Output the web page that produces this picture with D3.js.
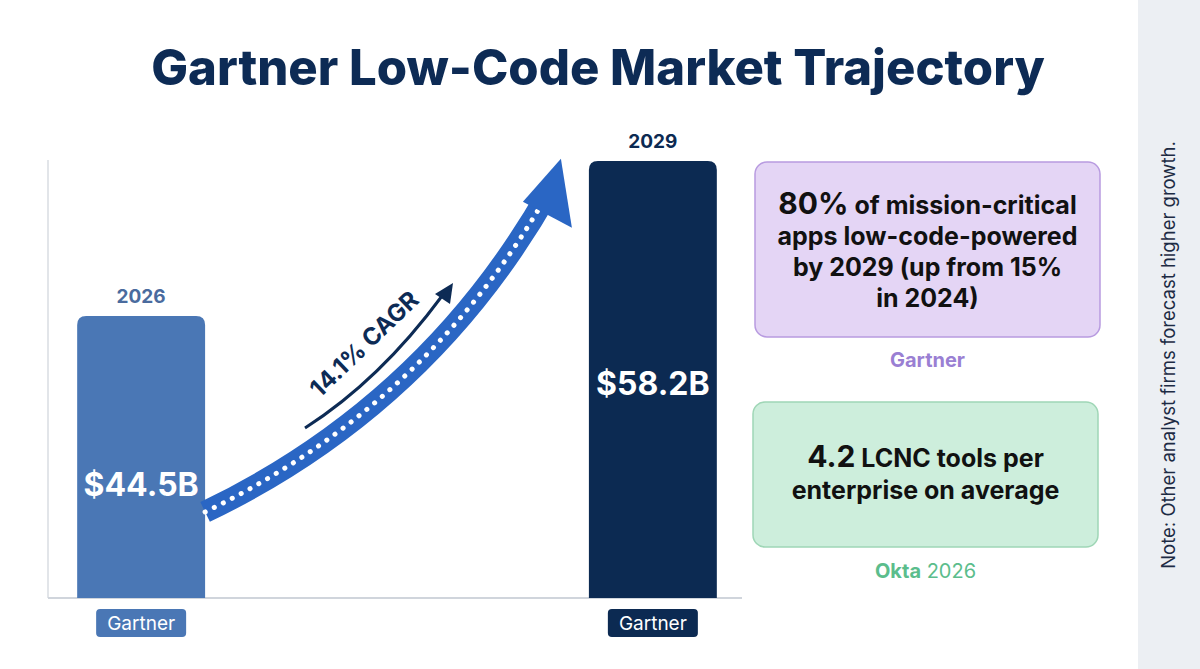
<!DOCTYPE html>
<html><head><meta charset="utf-8">
<script src="https://cdn.jsdelivr.net/npm/d3@7"></script>
<style>body{margin:0;background:#fff;font-family:Inter,"Noto Sans",sans-serif}</style>
</head><body><div id="chart"></div>
<script>
// chart data
const years = ["2026", "2029"];
const values = [44.5, 58.2];
const valueLabels = ["$44.5B", "$58.2B"];
const sources = ["Gartner", "Gartner"];
const barColors = ["#4a77b5", "#0c2a52"];
const cagrLabel = "14.1% CAGR";

const W = 1200, H = 669;
const svg = d3.select("#chart").append("svg").attr("width", W).attr("height", H);

// note strip on the right
svg.append("rect").attr("x", 1138).attr("y", 0).attr("width", 62).attr("height", H).attr("fill", "#eceff3");
svg.append("text").attr("transform", "translate(1175,355) rotate(-90)")
  .attr("text-anchor", "middle").style("font-size", "18.5px").attr("fill", "#1d2b44")
  .text("Note: Other analyst firms forecast higher growth.");

// title
svg.append("text").attr("x", 598).attr("y", 85).attr("text-anchor", "middle")
  .style("font-size", "49px").style("font-weight", "800").attr("fill", "#0d2b55")
  .text("Gartner Low-Code Market Trajectory");

// scales
const x = d3.scaleBand().domain(years).range([48, 746]).paddingInner(0.75).paddingOuter(0.057);
const y = d3.scaleLinear().domain([19.6, 58.2]).range([598, 161]);

// axes lines
svg.append("line").attr("x1", 48).attr("x2", 48).attr("y1", 160).attr("y2", 598).attr("stroke", "#d8dce2").attr("stroke-width", 1.5);
svg.append("line").attr("x1", 48).attr("x2", 742).attr("y1", 598).attr("y2", 598).attr("stroke", "#d0d5dc").attr("stroke-width", 2);

// bars
years.forEach((yr, i) => {
  const bx = x(yr), bw = x.bandwidth(), top = y(values[i]), bot = y(19.6);
  const r = 9;
  svg.append("path").attr("fill", barColors[i])
    .attr("d", `M${bx},${bot}V${top + r}Q${bx},${top} ${bx + r},${top}H${bx + bw - r}Q${bx + bw},${top} ${bx + bw},${top + r}V${bot}Z`);
  svg.append("text").attr("x", bx + bw / 2).attr("y", top - 13).attr("text-anchor", "middle")
    .style("font-size", "19px").style("font-weight", "700").attr("fill", i ? "#0c2a52" : "#4a6b9e").text(yr);
  svg.append("text").attr("x", bx + bw / 2).attr("y", i ? 395 : 496).attr("text-anchor", "middle")
    .style("font-size", "32px").style("font-weight", "700").attr("fill", "#fff").text(valueLabels[i]);
  svg.append("rect").attr("x", bx + bw / 2 - 45).attr("y", 609).attr("width", 90).attr("height", 28).attr("rx", 4).attr("fill", barColors[i]);
  svg.append("text").attr("x", bx + bw / 2).attr("y", 630).attr("text-anchor", "middle")
    .style("font-size", "19px").attr("fill", "#fff").text(sources[i]);
});

// growth arrow
const x0 = x(years[0]) + x.bandwidth(), x1 = x(years[1]);
const curve = `M${x0},${y(27.2)} C${x0 + 160},${y(34)} ${x0 + 270},${y(44)} ${x1 - 40},${y(55.5)}`;
svg.append("path").attr("d", curve).attr("fill", "none").attr("stroke", "#2a66c4").attr("stroke-width", 22);
svg.append("path").attr("d", curve).attr("fill", "none").attr("stroke", "#fff").attr("stroke-width", 5)
  .attr("stroke-linecap", "round").attr("stroke-dasharray", "0.1 10");
svg.append("path").attr("fill", "#2a66c4")
  .attr("d", `M${x1 - 28},${y(58.4)} L${x1 - 17},${y(52.3)} L${x1 - 66},${y(54.6)} Z`);

// CAGR label with small arrow
svg.append("path").attr("d", "M305,428 Q380,380 442,296").attr("fill", "none").attr("stroke", "#0d2b55").attr("stroke-width", 3);
svg.append("path").attr("d", "M453,283 L435,294 L450,304 Z").attr("fill", "#0d2b55");
svg.append("text").attr("transform", "translate(370,350) rotate(-44)").attr("text-anchor", "middle")
  .style("font-size", "24px").style("font-weight", "700").attr("fill", "#0d2b55").text(cagrLabel);

// stat cards
const cards = [
  {x: 755, y: 162, w: 345, h: 175, fill: "#e4d5f5", stroke: "#b89be0", src: [["Gartner", 700]], srcColor: "#9a7fd3", srcY: 367,
   lines: [[["80%", 30], [" of mission-critical", 25]], [["apps low-code-powered", 25]], [["by 2029 (up from 15%", 25]], [["in 2024)", 25]]], ly: 214, lh: 31},
  {x: 753, y: 402, w: 345, h: 145, fill: "#cdeedc", stroke: "#9fd6b6", src: [["Okta", 700], [" 2026", 400]], srcColor: "#5bbd8c", srcY: 578,
   lines: [[["4.2", 30], [" LCNC tools per", 25]], [["enterprise on average", 25]]], ly: 467, lh: 32}
];
cards.forEach(c => {
  svg.append("rect").attr("x", c.x).attr("y", c.y).attr("width", c.w).attr("height", c.h).attr("rx", 12)
    .attr("fill", c.fill).attr("stroke", c.stroke).attr("stroke-width", 1.5);
  c.lines.forEach((ln, i) => {
    const t = svg.append("text").attr("x", c.x + c.w / 2).attr("y", c.ly + i * c.lh).attr("text-anchor", "middle")
      .attr("fill", "#111").style("font-weight", "700");
    ln.forEach(s => t.append("tspan").style("font-size", s[1] + "px").text(s[0]));
  });
  const st = svg.append("text").attr("x", c.x + c.w / 2).attr("y", c.srcY).attr("text-anchor", "middle")
    .style("font-size", "20px").attr("fill", c.srcColor);
  c.src.forEach(s => st.append("tspan").style("font-weight", s[1]).text(s[0]));
});
</script></body></html>
